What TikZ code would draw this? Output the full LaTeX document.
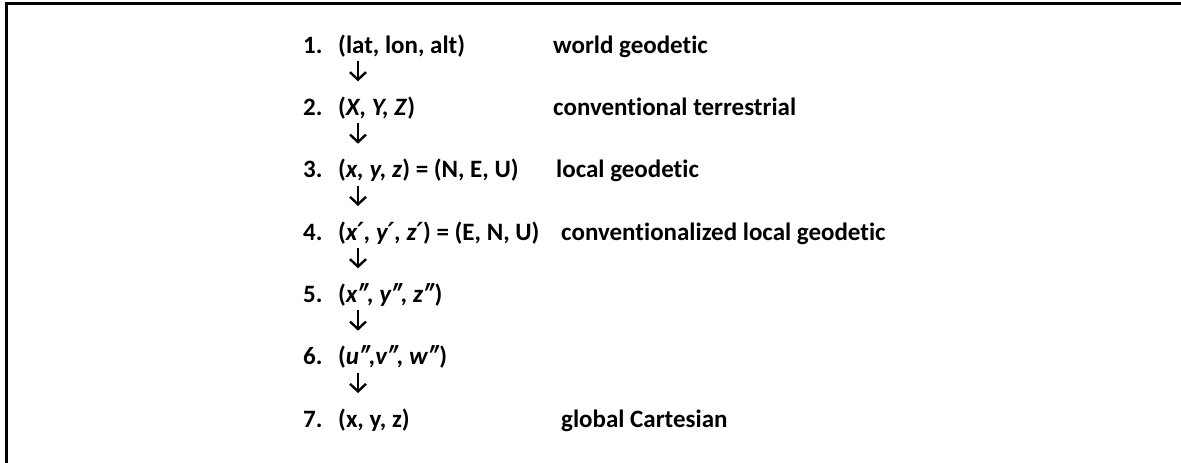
\documentclass[tikz,border=0pt]{standalone}
\usepackage{fontspec}
\setmainfont{Carlito}[Ligatures={NoCommon}]
\newfontfamily\djv{DejaVu Sans}
\usetikzlibrary{arrows.meta}
\newcommand{\pr}{{\djv\bfseries\itshape\fontsize{25}{29}\selectfont ′}}
\begin{document}
\begin{tikzpicture}[x=1pt,y=-1pt,
  txt/.style={anchor=base west, inner sep=0pt, font=\fontsize{25}{29}\selectfont\bfseries},
  arr/.style={-{Straight Barb[length=7.5pt,width=16pt,line width=2.4pt]}, line width=2.4pt},
  frame/.style={line width=3pt}]
\useasboundingbox (0,0) rectangle (1181,463);
\fill[white] (0,0) rectangle (1181,463);
\draw[frame] (6,463) -- (6,3) -- (1181,3);
% numbers
\node[txt] (n1) at (303,53) {1.};
\node[txt] (n2) at (303,115.3) {2.};
\node[txt] (n3) at (303,177.7) {3.};
\node[txt] (n4) at (303,240) {4.};
\node[txt] (n5) at (303,302.3) {5.};
\node[txt] (n6) at (303,364.7) {6.};
\node[txt] (n7) at (303,427) {7.};
% tuples
\node[txt] (t1) at (338,53) {(lat, lon, alt)};
\node[txt] (t2) at (338,115.3) {(\textit{X, Y, Z})};
\node[txt] (t3) at (338,177.7) {(\textit{x, y, z}) = (N, E, U)};
\node[txt] (t4) at (338,240) {(\textit{x\pr, y\pr, z\pr}) = (E, N, U)};
\node[txt] (t5) at (338,302.3) {(\textit{x″, y″, z″})};
\node[txt] (t6) at (338,364.7) {(\textit{u″,v″, w″})};
\node[txt] (t7) at (338,427) {(x, y, z)};
% descriptions
\node[txt] (d1) at (553,53) {world geodetic};
\node[txt] (d2) at (553,115.3) {conventional terrestrial};
\node[txt] (d3) at (556,177.7) {local geodetic};
\node[txt] (d4) at (561,240) {conventionalized local geodetic};
\node[txt] (d7) at (561,427) {global Cartesian};
% arrows
\coordinate (ax) at (358,0);
\foreach \i/\j in {1/2,2/3,3/4,4/5,5/6,6/7}{
  \draw[arr] ([yshift=-8pt]t\i.base -| ax) -- ([yshift=34pt]t\j.base -| ax);
}
\end{tikzpicture}
\end{document}
